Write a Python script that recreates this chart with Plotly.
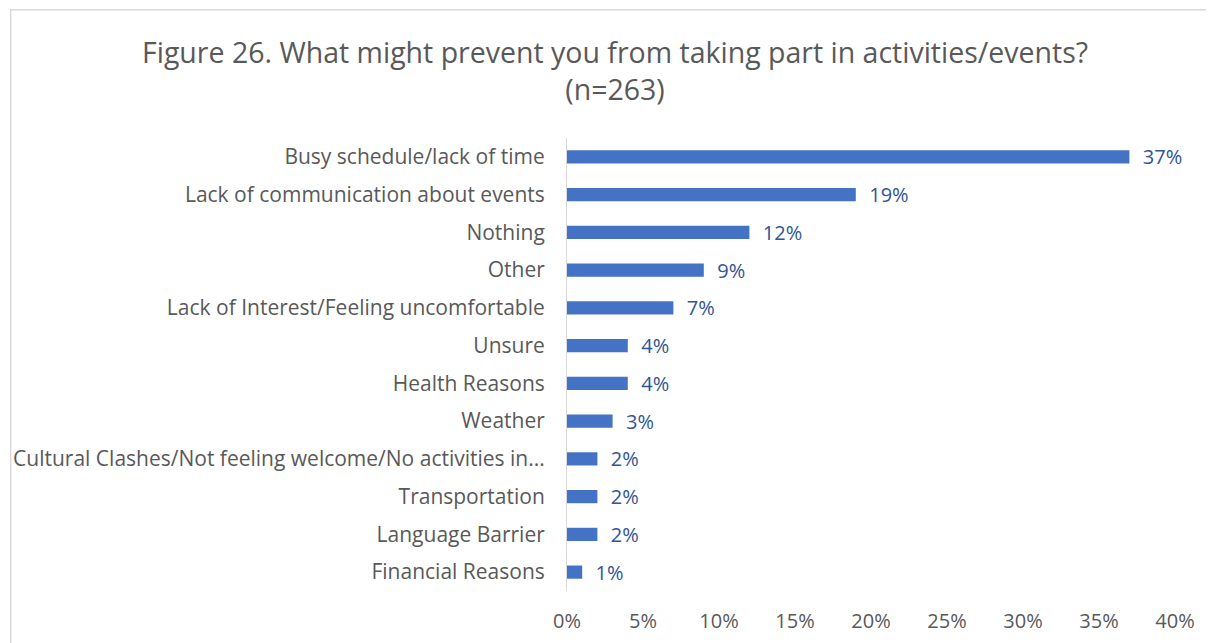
import plotly.graph_objects as go

categories = [
    'Busy schedule/lack of time',
    'Lack of communication about events',
    'Nothing',
    'Other',
    'Lack of Interest/Feeling uncomfortable',
    'Unsure',
    'Health Reasons',
    'Weather',
    'Cultural Clashes/Not feeling welcome/No activities in...',
    'Transportation',
    'Language Barrier',
    'Financial Reasons',
]
values = [37, 19, 12, 9, 7, 4, 4, 3, 2, 2, 2, 1]
x_ticks = [0, 5, 10, 15, 20, 25, 30, 35, 40]

font_family = 'Open Sans, sans-serif'
grey = '#595959'

fig = go.Figure()
fig.add_trace(go.Bar(
    x=values, y=categories, orientation='h',
    marker=dict(color='#4472C4', line_width=0),
    width=0.35,
    text=[f'{v}%' for v in values],
    texttemplate='\u00a0\u00a0%{text}',
    textposition='outside',
    constraintext='none',
    textfont=dict(color='#2F5597', size=20, family=font_family),
    cliponaxis=False,
))

fig.update_xaxes(range=[0, 40], tickvals=x_ticks,
                 ticktext=[f'{t}%' for t in x_ticks],
                 showgrid=False, zeroline=False, showline=False,
                 tickfont=dict(size=20, color=grey, family=font_family),
                 ticks='', ticklabelstandoff=16, automargin=False,
                 fixedrange=True)
fig.update_yaxes(autorange='reversed', showgrid=False, zeroline=False,
                 showline=True, linecolor='#D9D9D9', linewidth=1,
                 ticks='', ticklabelstandoff=17, automargin=False,
                 tickfont=dict(size=21, color=grey, family=font_family))

# light frame round the chart, as in the source document
fig.add_shape(type='rect', xref='paper', yref='paper',
              x0=-0.915, x1=1.2, y0=-0.2, y1=1.283,
              line=dict(color='#D9D9D9', width=1.5), layer='below')

fig.update_layout(
    width=1214, height=643,
    margin=dict(l=559, r=47, t=130, b=60),
    paper_bgcolor='white', plot_bgcolor='white',
    showlegend=False,
    bargap=0.65,
    title=dict(
        text='Figure 26. What might prevent you from taking part in activities/events?<br>(n=263)',
        x=0.5, xanchor='center', y=1 - 55 / 643, yanchor='top',
        font=dict(size=28.5, color=grey, family=font_family),
        automargin=False,
    ),
)

fig.write_html('out.html')
